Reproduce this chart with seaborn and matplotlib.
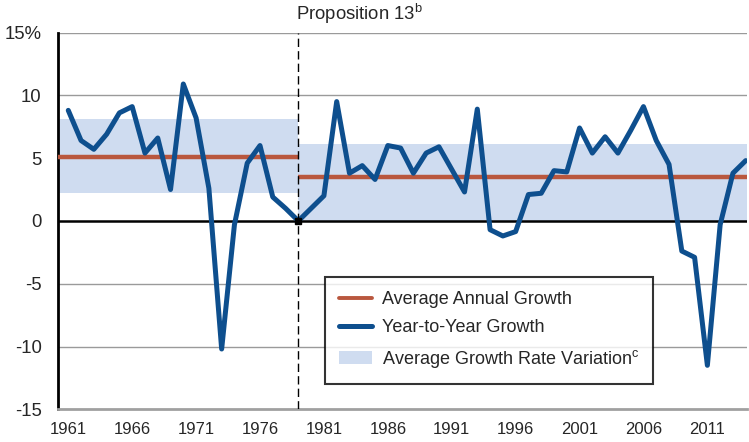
import numpy as np
import pandas as pd
import seaborn as sns
import matplotlib.pyplot as plt
from matplotlib.patches import Patch
from matplotlib.lines import Line2D

years = list(range(1961, 2015))
growth = [8.8, 6.4, 5.7, 6.9, 8.6, 9.1, 5.4, 6.6, 2.5, 10.9,
          8.2, 2.6, -10.2, -0.3, 4.6, 6.0, 1.9, 1.0, 0.0, 1.0,
          2.0, 9.5, 3.8, 4.4, 3.3, 6.0, 5.8, 3.8, 5.4, 5.9,
          4.1, 2.3, 8.9, -0.7, -1.2, -0.85, 2.1, 2.2, 4.0, 3.9,
          7.4, 5.4, 6.7, 5.4, 7.2, 9.1, 6.4, 4.5, -2.4, -2.9,
          -11.5, -0.3, 3.8, 4.8]

# periods: before / after Proposition 13
period_start = [1960.22, 1979]
period_end = [1979, 2014.1]
period_avg = [5.1, 3.5]
band_low = [2.2, 0.0]
band_high = [8.1, 6.1]

ytick_vals = [15, 10, 5, 0, -5, -10, -15]
ytick_labels = ["15%", "10", "5", "0", "-5", "-10", "-15"]
xtick_vals = [1961, 1966, 1971, 1976, 1981, 1986, 1991, 1996, 2001, 2006, 2011]

blue = "#0e4f8e"
red = "#b9573e"
band = "#cfdcf0"

sns.set_style("white")
plt.rcParams['font.family'] = ['Liberation Sans', 'DejaVu Sans']
plt.rcParams['mathtext.fontset'] = 'custom'
plt.rcParams['mathtext.rm'] = 'Liberation Sans'

df = pd.DataFrame({"year": years, "growth": growth})

fig = plt.figure(figsize=(7.49, 4.42), dpi=100)
ax = fig.add_axes([58.3 / 749, (442 - 409.3) / 442, (747 - 58.3) / 749, (409.3 - 32.5) / 442])

for i in range(2):
    ax.fill_between([period_start[i], period_end[i]], band_low[i], band_high[i],
                    color=band, lw=0, zorder=1)

for v in [15, 10, 5, -5, -10]:
    ax.axhline(v, color="#9a9a9a", lw=1.0, zorder=0.5)
ax.axhline(0, color="black", lw=1.8, zorder=2)

for i in range(2):
    ax.plot([period_start[i], period_end[i]], [period_avg[i]] * 2, color=red, lw=3.2,
            zorder=3, solid_capstyle="butt")

sns.lineplot(data=df, x="year", y="growth", ax=ax, color=blue, lw=3.6, zorder=4)

ax.axvline(1979, color="black", lw=1.0, ls=(0, (6, 3)), zorder=5)
ax.plot([1979], [0], marker="s", ms=4, color="black", zorder=6)

ax.text(1979 - 0.15, 15.5, "Proposition 13$^{\\mathregular{b}}$", fontsize=13.3,
        ha="left", va="bottom")

ax.set_xlim(1960.22, 2014.1)
ax.set_ylim(-15, 15)
ax.set_yticks(ytick_vals)
ax.set_yticklabels(ytick_labels, fontsize=13.3)
ax.set_xticks(xtick_vals)
ax.set_xticklabels([str(y) for y in xtick_vals], fontsize=12)
ax.set_xticks(years, minor=True)
ax.set_xlabel("")
ax.set_ylabel("")

for s in ["top", "right"]:
    ax.spines[s].set_visible(False)
ax.spines["left"].set_color("black")
ax.spines["left"].set_linewidth(2)
ax.spines["bottom"].set_color("#a0a0a0")
ax.spines["bottom"].set_linewidth(2)
ax.tick_params(axis="y", direction="out", length=7, width=1.8, color="black", pad=5)
ax.tick_params(axis="x", which="both", direction="out", length=5, width=1.2,
               color="#a0a0a0", pad=4)

handles = [Line2D([], [], color=red, lw=2.8),
           Line2D([], [], color=blue, lw=3.6),
           Patch(facecolor=band, edgecolor="none")]
labels = ["Average Annual Growth", "Year-to-Year Growth",
          "Average Growth Rate Variation$^{\\mathregular{c}}$"]
leg = ax.legend(handles, labels, loc="lower left", bbox_to_anchor=(0.387, 0.067),
                borderaxespad=0, fontsize=13.0, frameon=True, fancybox=False,
                handlelength=1.8, handletextpad=0.55, borderpad=0.8, labelspacing=0.62)
leg.get_frame().set_edgecolor("black")
leg.get_frame().set_linewidth(1.5)
leg.set_zorder(10)

fig.savefig("out.png", dpi=100)
